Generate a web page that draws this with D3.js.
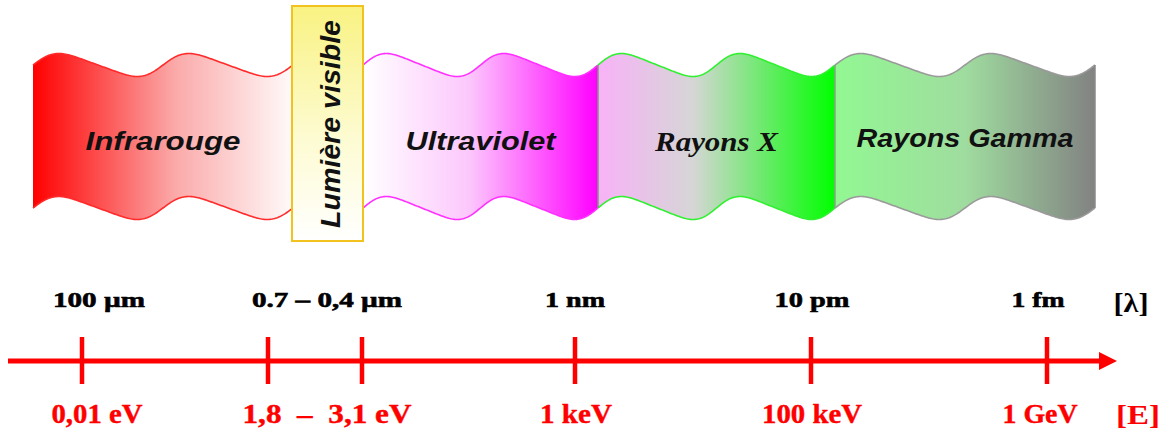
<!DOCTYPE html>
<html>
<head>
<meta charset="utf-8">
<script src="https://cdn.jsdelivr.net/npm/d3@7"></script>
<style>
  html, body { margin: 0; padding: 0; background: #ffffff; }
  svg { display: block; }
</style>
</head>
<body>
<script>
// ---------------- DATA ----------------
const bandNames = ["Infrarouge", "Ultraviolet", "Rayons X", "Rayons Gamma"];
const visibleName = "Lumière visible";
// wavelengths at tick marks (metres)
const tickWavelengths = [1e-4, 7e-7, 4e-7, 1e-9, 1e-11, 1e-15];
// which ticks each label belongs to
const labelTicks = [[0], [1, 2], [3], [4], [5]];
const lambdaLabels = ["100 µm", "0.7 – 0,4 µm", "1 nm", "10 pm", "1 fm"];
const energyLabels = ["0,01 eV", "1,8  –  3,1 eV", "1 keV", "100 keV", "1 GeV"];
const lambdaUnit = "[λ]";
const energyUnit = "[E]";

// ---------------- LAYOUT ----------------
const W = 1170, H = 433;
const svg = d3.select("body").append("svg").attr("width", W).attr("height", H);
svg.append("rect").attr("width", W).attr("height", H).attr("fill", "#fff");

const defs = svg.append("defs");
function hGrad(id, stops, vertical) {
  const g = defs.append("linearGradient").attr("id", id)
    .attr("x1", 0).attr("y1", 0).attr("x2", vertical ? 0 : 1).attr("y2", vertical ? 1 : 0);
  stops.forEach(([o, c]) => g.append("stop").attr("offset", o).attr("stop-color", c));
}
hGrad("gIR", [[0, "#ff0000"], [0.55, "#fbaaaa"], [1, "#fffafa"]]);
hGrad("gUV", [[0, "#ffffff"], [0.45, "#fcc8fc"], [1, "#ff00ff"]]);
hGrad("gX", [[0, "#f8b2f8"], [0.4, "#d6d6d6"], [1, "#00ff00"]]);
hGrad("gG", [[0, "#92f892"], [0.5, "#9fdc9f"], [1, "#828282"]]);
hGrad("gVis", [[0, "#f9f282"], [0.55, "#fdfbd0"], [1, "#ffffff"]], true);

// band segments (layout): left edge and widths
const bandX0 = 33;
const segWidths = [260, 70, 235, 237, 260];     // IR, visible box, UV, X, Gamma
const segEdges = segWidths.reduce((acc, w) => { acc.push(acc[acc.length - 1] + w); return acc; }, [bandX0]);
const bandSegIdx = [0, 2, 3, 4];
const bandStyles = [
  { fill: "url(#gIR)", stroke: "#ff2a2a" },
  { fill: "url(#gUV)", stroke: "#ff30ff" },
  { fill: "url(#gX)", stroke: "#30f030" },
  { fill: "url(#gG)", stroke: "#9a9a9a" }
];
const topMid = 65, botMid = 208, amp = 11.5, skew = 0.35;

function waveY(t, mid) {
  const th = 2 * Math.PI * 2 * t;
  const ph = th + skew * Math.sin(th);
  return mid - amp * Math.sin(ph);
}

const ts = d3.range(0, 1.0001, 0.005);
const line = d3.line().x(d => d[0]).y(d => d[1]);

const bandG = svg.append("g");
bandNames.forEach((name, i) => {
  const s = bandSegIdx[i];
  const xs = d3.scaleLinear().domain([0, 1]).range([segEdges[s], segEdges[s + 1]]);
  const top = ts.map(t => [xs(t), waveY(t, topMid)]);
  const bot = ts.map(t => [xs(t), waveY(t, botMid)]);
  const shape = top.concat(bot.slice().reverse());
  bandG.append("path").attr("d", line(shape) + "Z")
    .attr("fill", bandStyles[i].fill).attr("stroke", "none");
  bandG.append("path").attr("d", line(top)).attr("fill", "none")
    .attr("stroke", bandStyles[i].stroke).attr("stroke-width", 1.6);
  bandG.append("path").attr("d", line(bot)).attr("fill", "none")
    .attr("stroke", bandStyles[i].stroke).attr("stroke-width", 1.6);
  if (i >= 2) {
    bandG.append("line")
      .attr("x1", xs(0)).attr("x2", xs(0))
      .attr("y1", waveY(0, topMid)).attr("y2", waveY(0, botMid))
      .attr("stroke", i === 2 ? "#7a9a7a" : "#8aa08a").attr("stroke-width", 1.5);
  }
  if (i === 3) {
    bandG.append("line")
      .attr("x1", xs(1)).attr("x2", xs(1))
      .attr("y1", waveY(1, topMid)).attr("y2", waveY(1, botMid))
      .attr("stroke", "#8a8a8a").attr("stroke-width", 1.5);
  }
  bandG.append("text")
    .attr("x", xs(0.5)).attr("y", i === 3 ? 147 : (i === 2 ? 151 : 150))
    .attr("text-anchor", "middle")
    .attr("font-family", i === 2 ? "'Liberation Serif', serif" : "'Liberation Sans', Arial, sans-serif")
    .attr("font-weight", "bold").attr("font-style", "italic")
    .attr("font-size", i === 2 ? 28 : 26)
    .attr("textLength", [155, 150, 123, 217][i]).attr("lengthAdjust", "spacingAndGlyphs")
    .attr("fill", "#111").text(name);
});

// visible light box
const vx0 = segEdges[1] - 1, vx1 = segEdges[2];
svg.append("rect").attr("x", vx0).attr("y", 6).attr("width", vx1 - vx0).attr("height", 235)
  .attr("fill", "url(#gVis)").attr("stroke", "#f2c21e").attr("stroke-width", 2);
svg.append("text")
  .attr("transform", `translate(${(vx0 + vx1) / 2 + 12},124) rotate(-90)`)
  .attr("text-anchor", "middle")
  .attr("font-family", "'Liberation Sans', Arial, sans-serif")
  .attr("font-weight", "bold").attr("font-style", "italic")
  .attr("font-size", 27).attr("textLength", 208).attr("lengthAdjust", "spacingAndGlyphs")
  .attr("fill", "#111").text(visibleName);

// ---------------- AXIS ----------------
const x = d3.scaleLog().domain(tickWavelengths).range([82, 268, 362, 575, 811, 1047]);
const axisY = 361;
const red = "#ff0000";
const axisG = svg.append("g");
axisG.append("line").attr("x1", 8).attr("x2", 1102).attr("y1", axisY).attr("y2", axisY)
  .attr("stroke", red).attr("stroke-width", 5);
axisG.append("path")
  .attr("d", `M1099,${axisY - 9}L1117,${axisY}L1099,${axisY + 9}Z`).attr("fill", red);
axisG.selectAll("line.tick").data(tickWavelengths).join("line").attr("class", "tick")
  .attr("x1", d => x(d)).attr("x2", d => x(d)).attr("y1", 337).attr("y2", 384)
  .attr("stroke", red).attr("stroke-width", 4.5);

const labelCenter = idx => d3.mean(idx, j => x(tickWavelengths[j]));
const topDx = [17, 12, 0, 1, -9];
const topLen = [92, 150, 60, 75, 53];
const botDx = [15, 12, 1, 1, -7];
const botLen = [91, 169, 72, 100, 75];

svg.append("g").selectAll("text").data(lambdaLabels).join("text")
  .attr("x", (d, i) => labelCenter(labelTicks[i]) + topDx[i]).attr("y", 307)
  .attr("text-anchor", "middle")
  .attr("font-family", "'Liberation Serif', 'Times New Roman', serif")
  .attr("font-weight", "bold").attr("font-size", 22)
  .attr("stroke", "#000").attr("stroke-width", 0.6)
  .attr("textLength", (d, i) => topLen[i]).attr("lengthAdjust", "spacingAndGlyphs")
  .attr("fill", "#000").text(d => d);

svg.append("g").selectAll("text").data(energyLabels).join("text")
  .attr("x", (d, i) => labelCenter(labelTicks[i]) + botDx[i]).attr("y", 423)
  .attr("text-anchor", "middle")
  .style("white-space", "pre")
  .attr("font-family", "'Liberation Serif', 'Times New Roman', serif")
  .attr("font-weight", "bold").attr("font-size", 27)
  .attr("stroke", red).attr("stroke-width", 0.4)
  .attr("textLength", (d, i) => botLen[i]).attr("lengthAdjust", "spacingAndGlyphs")
  .attr("fill", red).text(d => d);

svg.append("text").attr("x", 1131).attr("y", 312).attr("text-anchor", "middle")
  .attr("font-family", "'Liberation Serif', 'Times New Roman', serif")
  .attr("font-weight", "bold").attr("font-size", 27)
  .attr("textLength", 35).attr("lengthAdjust", "spacingAndGlyphs")
  .attr("fill", "#000").text(lambdaUnit);
svg.append("text").attr("x", 1138).attr("y", 424).attr("text-anchor", "middle")
  .attr("font-family", "'Liberation Serif', 'Times New Roman', serif")
  .attr("font-weight", "bold").attr("font-size", 28)
  .attr("textLength", 44).attr("lengthAdjust", "spacingAndGlyphs")
  .attr("fill", red).text(energyUnit);
</script>
</body>
</html>
